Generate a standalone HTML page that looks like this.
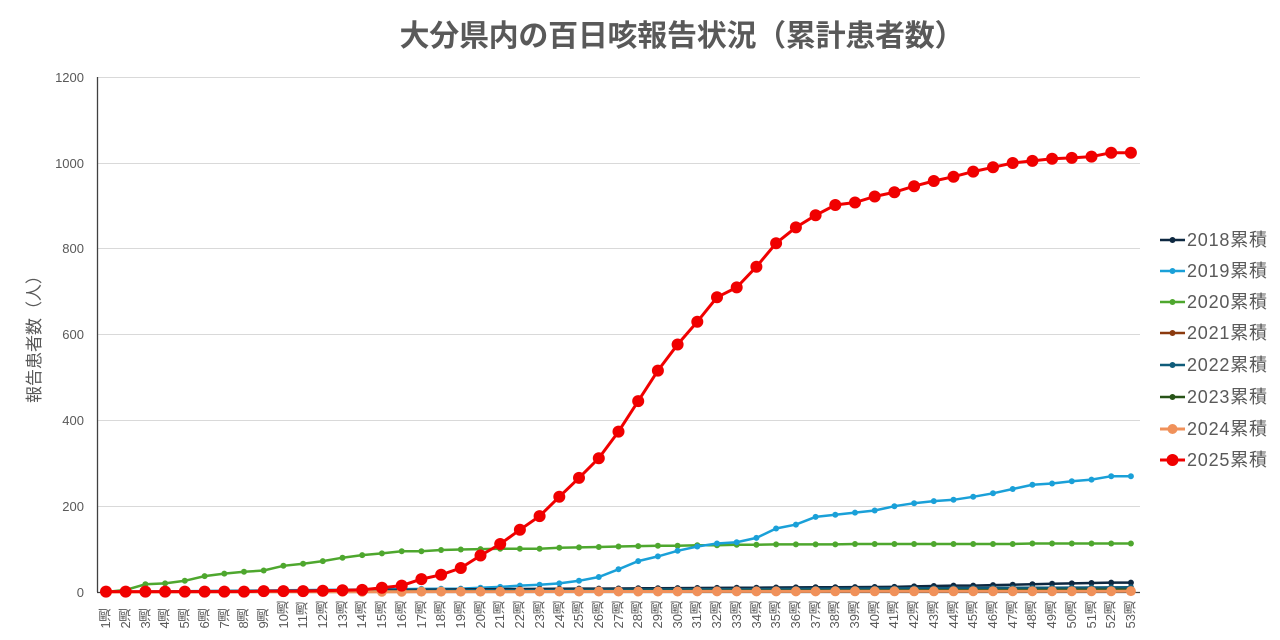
<!DOCTYPE html>
<html><head><meta charset="utf-8"><style>
body{margin:0;background:#fff;width:1280px;height:640px;overflow:hidden;font-family:"Liberation Sans","Noto Sans CJK JP",sans-serif;position:relative}
#wk{position:absolute;left:96.5px;top:601px;display:flex}
#wk div{width:19.71px;display:flex;justify-content:center}
#wk span{writing-mode:vertical-rl;transform:rotate(180deg);font-size:13px;color:#595959;line-height:14px}
</style></head><body>
<svg id="s" width="1280" height="640" style="position:absolute;left:0;top:0" font-family="Liberation Sans, Noto Sans CJK JP, sans-serif">
<text x="682" y="46" text-anchor="middle" font-size="30" font-weight="bold" fill="#595959" textLength="565">大分県内の百日咳報告状況（累計患者数）</text>
<g stroke="#d9d9d9" stroke-width="1">
<line x1="97" y1="77.5" x2="1140" y2="77.5"/><line x1="97" y1="163.5" x2="1140" y2="163.5"/><line x1="97" y1="248.5" x2="1140" y2="248.5"/><line x1="97" y1="334.5" x2="1140" y2="334.5"/><line x1="97" y1="420.5" x2="1140" y2="420.5"/><line x1="97" y1="506.5" x2="1140" y2="506.5"/>
</g>
<line x1="97" y1="592.5" x2="1140" y2="592.5" stroke="#404040" stroke-width="1.3"/>
<line x1="97.5" y1="77" x2="97.5" y2="592" stroke="#404040" stroke-width="1.3"/>
<g font-size="13" fill="#595959" text-anchor="end">
<text x="84" y="82">1200</text><text x="84" y="168">1000</text><text x="84" y="253">800</text><text x="84" y="339">600</text><text x="84" y="425">400</text><text x="84" y="511">200</text><text x="84" y="597">0</text>
</g>
<text transform="translate(40,335) rotate(-90)" text-anchor="middle" font-size="17" fill="#595959">報告患者数（人）</text>
<g id="series"></g>
<g font-size="18" fill="#595959">
<text x="1187" y="246" textLength="80">2018累積</text><text x="1187" y="277" textLength="80">2019累積</text><text x="1187" y="308" textLength="80">2020累積</text><text x="1187" y="339" textLength="80">2021累積</text><text x="1187" y="371" textLength="80">2022累積</text><text x="1187" y="403" textLength="80">2023累積</text><text x="1187" y="435" textLength="80">2024累積</text><text x="1187" y="466" textLength="80">2025累積</text>
</g>
<g id="leg"></g>
</svg>
<div id="wk"><div><span>1週</span></div><div><span>2週</span></div><div><span>3週</span></div><div><span>4週</span></div><div><span>5週</span></div><div><span>6週</span></div><div><span>7週</span></div><div><span>8週</span></div><div><span>9週</span></div><div><span>10週</span></div><div><span>11週</span></div><div><span>12週</span></div><div><span>13週</span></div><div><span>14週</span></div><div><span>15週</span></div><div><span>16週</span></div><div><span>17週</span></div><div><span>18週</span></div><div><span>19週</span></div><div><span>20週</span></div><div><span>21週</span></div><div><span>22週</span></div><div><span>23週</span></div><div><span>24週</span></div><div><span>25週</span></div><div><span>26週</span></div><div><span>27週</span></div><div><span>28週</span></div><div><span>29週</span></div><div><span>30週</span></div><div><span>31週</span></div><div><span>32週</span></div><div><span>33週</span></div><div><span>34週</span></div><div><span>35週</span></div><div><span>36週</span></div><div><span>37週</span></div><div><span>38週</span></div><div><span>39週</span></div><div><span>40週</span></div><div><span>41週</span></div><div><span>42週</span></div><div><span>43週</span></div><div><span>44週</span></div><div><span>45週</span></div><div><span>46週</span></div><div><span>47週</span></div><div><span>48週</span></div><div><span>49週</span></div><div><span>50週</span></div><div><span>51週</span></div><div><span>52週</span></div><div><span>53週</span></div></div>
<script>
function lin(a,b,n){var r=[];for(var i=0;i<n;i++)r.push(a+(b-a)*i/(n-1));return r;}
var d2018=lin(0,8,25).concat(lin(8,12,16)).concat([13,14,15,15,16,17,18,19,20,21,22,22]);
var d2019=lin(0,8,19).concat([10,12,15,17,20,26,35,53,72,83,96,106,113,116,126,148,157,175,180,185,190,200,207,212,215,222,230,240,250,253,258,262,270,270]);
var d2020=[0,5,18,20,26,37,43,47,50,61,66,72,80,86,90,95,95,98,99,100,101,101,101,103,104,105,106,107,108,108,109,109,110,110,111,111,111,111,112,112,112,112,112,112,112,112,112,113,113,113,113,113,113];
var d2021=lin(0,3,20).concat(lin(3,7,33));
var d2022=lin(0,4,20).concat(lin(4,11,33));
var d2023=lin(0,2,25).concat(lin(2,5,28));
var d2024=lin(0,1,20).concat(lin(1,2,33));
var d2025=[1,1,1,1,1,1,1,1,2,2,2,3,4,5,10,15,30,40,56,85,112,145,177,222,266,312,374,445,516,577,630,687,710,758,813,850,878,902,908,922,932,946,958,968,980,990,1000,1005,1010,1012,1015,1024,1024];
var S=[[d2018,'#0e2841',2.5,3],[d2019,'#1aa0d8',2.5,3],[d2020,'#4ea72e',2.5,3],[d2021,'#8b3a0e',2.5,3],[d2022,'#0f5c7a',2.5,3],[d2023,'#275317',2.5,3],[d2024,'#f0915a',3,5],[d2025,'#f00000',3,6]];
var order=[2,1,0,3,4,5,6,7];
var g=document.getElementById('series'),h='';
order.forEach(function(k){var s=S[k],p='';s[0].forEach(function(v,i){var x=106+19.71*i,y=592-v*0.429;p+=(i?'L':'M')+x.toFixed(1)+' '+y.toFixed(1);});
h+='<path d="'+p+'" fill="none" stroke="'+s[1]+'" stroke-width="'+s[2]+'"/>';
s[0].forEach(function(v,i){h+='<circle cx="'+(106+19.71*i).toFixed(1)+'" cy="'+(592-v*0.429).toFixed(1)+'" r="'+s[3]+'" fill="'+s[1]+'"/>';});});
g.innerHTML=h;
var lg='';var ly=[240,271,302,333,365,397,429,460];
S.forEach(function(s,i){lg+='<line x1="1160" y1="'+ly[i]+'" x2="1185" y2="'+ly[i]+'" stroke="'+s[1]+'" stroke-width="'+s[2]+'"/><circle cx="1172.5" cy="'+ly[i]+'" r="'+s[3]+'" fill="'+s[1]+'"/>';});
document.getElementById('leg').innerHTML=lg;
</script>
</body></html>
